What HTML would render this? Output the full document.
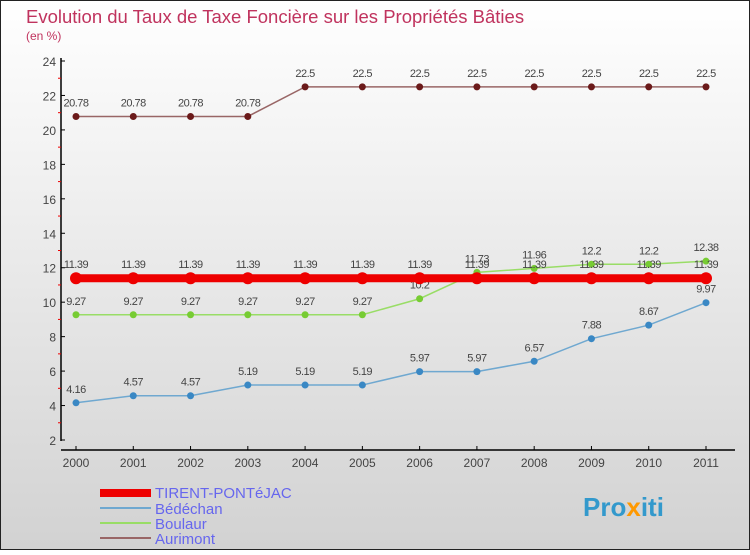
<!DOCTYPE html>
<html><head><meta charset="utf-8"><style>
body{margin:0;width:750px;height:550px;overflow:hidden;font-family:"Liberation Sans",sans-serif}
</style></head><body>
<svg id="c" width="750" height="550" xmlns="http://www.w3.org/2000/svg">
<defs><linearGradient id="bg" x1="0" y1="0" x2="0" y2="1"><stop offset="0" stop-color="#ffffff"/><stop offset="1" stop-color="#d2d2d2"/></linearGradient></defs>
<rect x="0.5" y="0.5" width="749" height="549" fill="url(#bg)" stroke="#222"/>
<text x="26" y="23" font-size="18.5" fill="#c0335e">Evolution du Taux de Taxe Foncière sur les Propriétés Bâties</text>
<text x="26" y="40" font-size="12" fill="#c0335e">(en %)</text>
<g id="plot"></g>
<g>
<rect x="100" y="489" width="51" height="8" fill="#e00"/>
<text x="155" y="498" font-size="15" fill="#6666ee">TIRENT-PONTéJAC</text>
<line x1="100" y1="508" x2="151" y2="508" stroke="#6fa8d0" stroke-width="2"/>
<text x="155" y="514" font-size="15" fill="#6666ee">Bédéchan</text>
<line x1="100" y1="523" x2="151" y2="523" stroke="#99dd66" stroke-width="2"/>
<text x="155" y="529" font-size="15" fill="#6666ee">Boulaur</text>
<line x1="100" y1="538" x2="151" y2="538" stroke="#996666" stroke-width="2"/>
<text x="155" y="544" font-size="15" fill="#6666ee">Aurimont</text>
</g>
<text x="583" y="516" font-size="26" font-weight="bold" fill="#3399cc">Pro<tspan fill="#ff9900">x</tspan>iti</text>
</svg>
<script>
const years=["2000","2001","2002","2003","2004","2005","2006","2007","2008","2009","2010","2011"];
const yTicks=[2,4,6,8,10,12,14,16,18,20,22,24];
const tirent=[11.39,11.39,11.39,11.39,11.39,11.39,11.39,11.39,11.39,11.39,11.39,11.39];
const bedechan=[4.16,4.57,4.57,5.19,5.19,5.19,5.97,5.97,6.57,7.88,8.67,9.97];
const boulaur=[9.27,9.27,9.27,9.27,9.27,9.27,10.2,11.73,11.96,12.2,12.2,12.38];
const aurimont=[20.78,20.78,20.78,20.78,22.5,22.5,22.5,22.5,22.5,22.5,22.5,22.5];
const NS="http://www.w3.org/2000/svg";
const g=document.getElementById('plot');
const X=i=>76+i*(630/(years.length-1));
const Y=v=>440-(v-2)*(379/22);
function mk(t,a,p){const e=document.createElementNS(NS,t);for(const k in a)e.setAttribute(k,a[k]);(p||g).appendChild(e);return e;}
let ax=mk('line',{x1:61,y1:58,x2:61,y2:441,stroke:'#000','stroke-width':1.5});


let bx=mk('line',{x1:61,y1:450,x2:735,y2:450,stroke:'#000','stroke-width':1.5});


yTicks.forEach(v=>{
 mk('line',{x1:61,y1:Y(v),x2:65,y2:Y(v),stroke:'#000'});
 if(v<24)mk('line',{x1:58,y1:Y(v+1),x2:61,y2:Y(v+1),stroke:'#e00'});
 const t=mk('text',{x:56,y:Y(v)+5,'font-size':12,fill:'#444','text-anchor':'end'});t.textContent=v;
 
 
});
years.forEach((yr,i)=>{
 mk('line',{x1:X(i),y1:446,x2:X(i),y2:450,stroke:'#000'});
 const t=mk('text',{x:X(i),y:467,'font-size':12,fill:'#444','text-anchor':'middle'});t.textContent=yr;
 
 
});
function series(d,col,dot,w,r,name){
 const pl=mk('polyline',{points:d.map((v,i)=>X(i)+','+Y(v)).join(' '),fill:'none',stroke:col,'stroke-width':w});
 
 
 d.forEach((v,i)=>{
  const c=mk('circle',{cx:X(i),cy:Y(v),r:r,fill:dot});
  
  
  const t=mk('text',{x:X(i),y:Y(v)-10,'font-size':11,fill:'#444','text-anchor':'middle','letter-spacing':'-0.5'});t.textContent=v;
  
  
 });
}
series(aurimont,'#996666','#6b1a1a',1.5,3.5,'aurimont');
series(boulaur,'#99dd66','#77cc33',1.5,3.5,'boulaur');
series(bedechan,'#6fa8d0','#3a88c4',1.5,3.5,'bedechan');
series(tirent,'#ee0000','#ee0000',8,6,'tirent');
</script>
</body></html>
